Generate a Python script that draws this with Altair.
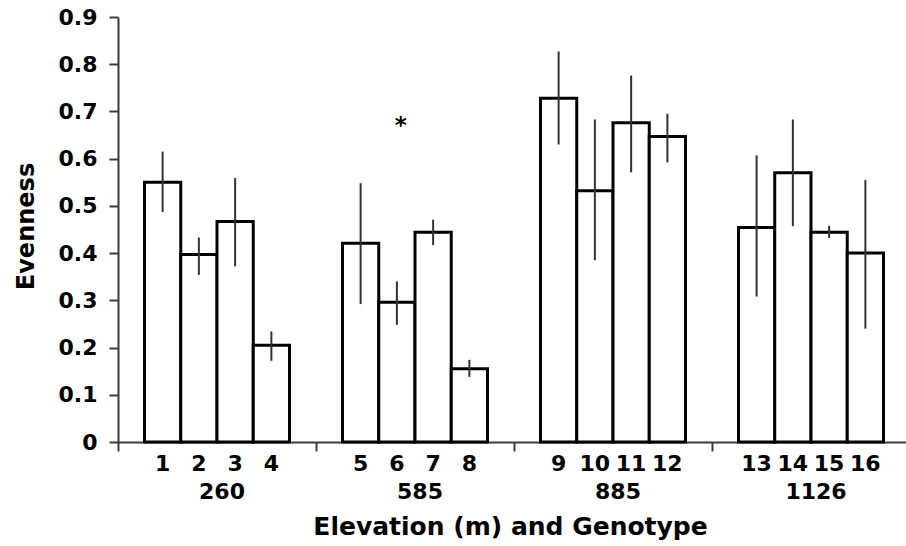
import altair as alt
import pandas as pd

# Elevation groups (m) and the four genotypes sampled at each
elevations = ["260", "585", "885", "1126"]
genotypes = [str(i) for i in range(1, 17)]

# Mean evenness per genotype and the ends of its error bar
evenness = [0.550, 0.397, 0.467, 0.205,
            0.421, 0.296, 0.444, 0.155,
            0.728, 0.532, 0.676, 0.647,
            0.454, 0.570, 0.444, 0.400]
err_upper = [0.615, 0.433, 0.559, 0.234,
             0.548, 0.340, 0.471, 0.174,
             0.827, 0.683, 0.776, 0.695,
             0.607, 0.683, 0.458, 0.555]
err_lower = [0.487, 0.354, 0.372, 0.172,
             0.292, 0.248, 0.417, 0.138,
             0.630, 0.385, 0.571, 0.592,
             0.308, 0.457, 0.432, 0.240]

# Significance marker
sig_genotype = ["6"]
sig_level = [0.655]
sig_text = ["*"]

slots = ["1", "2", "3", "4"]
df = pd.DataFrame({
    "genotype": genotypes,
    "elevation": [elevations[i // 4] for i in range(len(genotypes))],
    "slot": [slots[i % 4] for i in range(len(genotypes))],
    "evenness": evenness,
    "upper": err_upper,
    "lower": err_lower,
})
groups = pd.DataFrame({"elevation": elevations})
sig = df[df["genotype"].isin(sig_genotype)][["elevation", "slot"]].copy()
sig["level"] = sig_level
sig["label"] = sig_text

FONT = "DejaVu Sans"
AXIS_GREY = "#3a3a3a"

x_scale = alt.Scale(domain=elevations, range=[0, 792], paddingInner=0, paddingOuter=0)
x_axis = alt.Axis(
    title="Elevation (m) and Genotype",
    labels=False,
    bandPosition=0,
    tickSize=9,
    tickWidth=2,
    tickColor=AXIS_GREY,
    domainColor=AXIS_GREY,
    domainWidth=2,
    grid=False,
    titleFont=FONT,
    titleFontSize=25,
    titleFontWeight="bold",
    titleColor="black",
    titleX=392,
    titleY=92,
    titleBaseline="alphabetic",
)
x_enc = alt.X("elevation:N", sort=elevations, scale=x_scale, axis=x_axis)
x_plain = alt.X("elevation:N", sort=elevations, scale=x_scale)
off_enc = alt.XOffset("slot:N", sort=slots,
                      scale=alt.Scale(domain=slots, paddingInner=0, paddingOuter=0.731))

y_axis = alt.Axis(
    title="Evenness",
    values=[0, 0.1, 0.2, 0.3, 0.4, 0.5, 0.6, 0.7, 0.8, 0.9],
    labelExpr="datum.value == 0 ? '0' : format(datum.value, '.1f')",
    labelFont=FONT,
    labelFontSize=22,
    labelFontWeight="bold",
    labelColor="black",
    labelPadding=12,
    tickSize=9,
    tickWidth=2,
    tickColor=AXIS_GREY,
    domainColor=AXIS_GREY,
    domainWidth=2,
    grid=False,
    titleFont=FONT,
    titleFontSize=24,
    titleFontWeight="bold",
    titleColor="black",
    titleX=-85,
    titleY=209,
    titleBaseline="alphabetic",
)
y_scale = alt.Scale(domain=[0, 0.9], nice=False, zero=True)

base = alt.Chart(df)

bars = base.mark_bar(fill="white", stroke="black", strokeWidth=3).encode(
    x=x_enc,
    xOffset=off_enc,
    y=alt.Y("evenness:Q", scale=y_scale, axis=y_axis),
)

errors = base.mark_rule(color="#333333", strokeWidth=2).encode(
    x=x_plain,
    xOffset=off_enc,
    y=alt.Y("lower:Q", scale=y_scale),
    y2="upper:Q",
)

genotype_labels = base.mark_text(
    font=FONT, fontSize=22, fontWeight="bold", color="black", baseline="alphabetic"
).encode(
    x=x_plain,
    xOffset=off_enc,
    y=alt.value(454),
    text="genotype:N",
)

elevation_labels = alt.Chart(groups).mark_text(
    font=FONT, fontSize=22, fontWeight="bold", color="black", baseline="alphabetic", dx=5
).encode(
    x=x_plain,
    y=alt.value(482),
    text="elevation:N",
)

stars = alt.Chart(sig).mark_text(
    font=FONT, fontSize=23, fontWeight="bold", color="black", baseline="alphabetic", dx=4
).encode(
    x=x_plain,
    xOffset=alt.XOffset("slot:N", sort=slots),
    y=alt.Y("level:Q", scale=y_scale),
    text="label:N",
)

chart = alt.layer(bars, errors, genotype_labels, elevation_labels, stars).properties(
    width=788,
    height=425,
    autosize=alt.AutoSizeParams(type="none"),
    padding={"left": 118, "top": 17, "right": 0, "bottom": 104},
    background="white",
).configure_view(stroke=None)

chart.save("out.html", embed_options={"renderer": "svg", "actions": False})
